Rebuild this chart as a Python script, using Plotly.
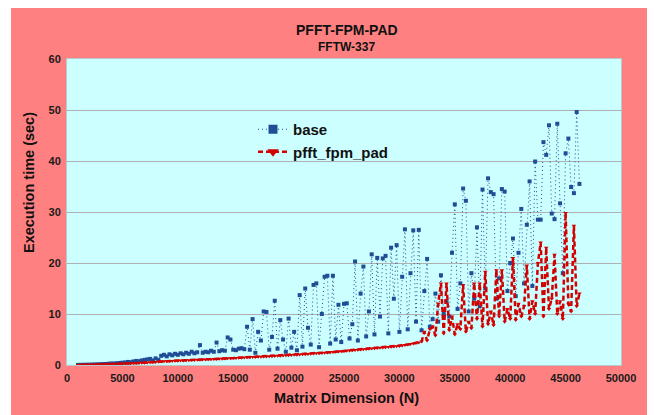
import plotly.graph_objects as go

# Matrix dimension N (x values)
matrix_n = [
    1000, 1250, 1500, 1750, 2000, 2250, 2500, 2750, 3000, 3250,
    3500, 3750, 4000, 4250, 4500, 4750, 5000, 5250, 5500, 5750,
    6000, 6250, 6500, 6750, 7000, 7250, 7500, 7750, 8000, 8250,
    8500, 8750, 9000, 9250, 9500, 9750, 10000, 10250, 10500, 10750,
    11000, 11250, 11500, 11750, 12000, 12250, 12500, 12750, 13000, 13250,
    13500, 13750, 14000, 14250, 14500, 14750, 15000, 15250, 15500, 15750,
    16000, 16250, 16500, 16750, 17000, 17250, 17500, 17750, 18000, 18250,
    18500, 18750, 19000, 19250, 19500, 19750, 20000, 20250, 20500, 20750,
    21000, 21250, 21500, 21750, 22000, 22250, 22500, 22750, 23000, 23250,
    23500, 23750, 24000, 24250, 24500, 24750, 25000, 25250, 25500, 25750,
    26000, 26250, 26500, 26750, 27000, 27250, 27500, 27750, 28000, 28250,
    28500, 28750, 29000, 29250, 29500, 29750, 30000, 30250, 30500, 30750,
    31000, 31250, 31500, 31750, 32000, 32250, 32500, 32750, 33000, 33250,
    33500, 33750, 34000, 34250, 34500, 34750, 35000, 35250, 35500, 35750,
    36000, 36250, 36500, 36750, 37000, 37250, 37500, 37750, 38000, 38250,
    38500, 38750, 39000, 39250, 39500, 39750, 40000, 40250, 40500, 40750,
    41000, 41250, 41500, 41750, 42000, 42250, 42500, 42750, 43000, 43250,
    43500, 43750, 44000, 44250, 44500, 44750, 45000, 45250, 45500, 45750,
    46000, 46250,
]

# base execution time (sec)
base_small = [0.02, 0.03, 0.04, 0.05, 0.06, 0.08, 0.1, 0.12, 0.15, 0.18,
              0.2, 0.25, 0.3, 0.28, 0.35, 0.4, 0.45, 0.5, 0.6, 0.55,
              0.7, 0.8, 0.75, 0.9, 1.0, 1.1, 1.2, 0.9, 1.3, 1.0]
base_mid = [1.8, 2.0, 1.7, 2.1, 1.9, 2.2, 2.0, 2.3, 2.1, 2.4,
            2.2, 2.6, 2.3, 2.5, 3.9, 2.4, 2.6, 2.5, 2.8, 2.6,
            4.4, 2.7, 2.9, 2.8, 5.4, 5.0, 3.0, 2.9, 3.2, 3.3, 3.1]
base_scatter = [7.5, 3.0, 9.0, 2.4, 6.5, 4.8, 10.5, 10.4, 3.0, 5.5,
                12.6, 3.2, 8.8, 5.0, 2.6, 9.1, 3.4, 6.5, 2.9, 13.7,
                3.6, 15.0, 7.3, 4.0, 15.7, 16.0, 3.5, 10.0, 17.3, 17.5,
                4.2, 17.5]
base_upper = [5.0, 11.8, 4.5, 12.0, 12.1, 5.2, 8.0, 20.3, 4.8, 14.0,
              19.3, 5.6, 10.5, 21.7, 6.0, 21.0, 9.5, 20.9, 21.4, 6.2,
              23.0, 13.0, 23.5, 6.5, 17.3, 26.6, 7.0, 18.0, 26.4, 8.5,
              26.5, 6.8, 14.5, 20.8, 7.5]
base_large = [9.0, 14.0, 8.5, 17.6, 10.0, 12.5, 9.5, 22.0, 31.5, 11.0,
              16.0, 34.6, 32.2, 10.5, 18.0, 13.0, 27.0, 11.5, 34.4, 15.0,
              36.6, 33.9, 33.5, 13.0, 17.0, 34.5, 34.0, 14.5, 20.0, 24.8,
              13.5, 22.0, 30.6, 16.0, 27.5, 36.0, 15.5, 39.9, 28.5, 28.5,
              43.7, 41.2, 47.0, 29.7, 28.6, 47.3, 31.7, 18.0, 41.5, 44.4,
              34.9, 33.7, 49.6, 35.5]
base_time = base_small + base_mid + base_scatter + base_upper + base_large

# pfft_fpm_pad execution time (sec)
pad_small = [0.01, 0.02, 0.03, 0.04, 0.05, 0.06, 0.07, 0.09, 0.1, 0.12,
             0.14, 0.16, 0.18, 0.2, 0.22, 0.24, 0.26, 0.28, 0.3, 0.32,
             0.35, 0.38, 0.4, 0.43, 0.46, 0.5, 0.53, 0.56, 0.6, 0.63]
pad_mid = [0.7, 0.72, 0.75, 0.78, 0.8, 0.83, 0.85, 0.88, 0.9, 0.93,
           0.95, 0.98, 1.0, 1.03, 1.05, 1.08, 1.1, 1.13, 1.15, 1.18,
           1.2, 1.23, 1.25, 1.28, 1.3, 1.33, 1.35, 1.38, 1.4, 1.43, 1.45]
pad_scatter = [1.5, 1.52, 1.55, 1.58, 1.6, 1.63, 1.65, 1.68, 1.7, 1.73,
               1.76, 1.8, 1.83, 1.86, 1.9, 1.93, 1.96, 2.0, 2.03, 2.06,
               2.1, 2.13, 2.16, 2.2, 2.24, 2.28, 2.32, 2.36, 2.4, 2.45,
               2.5, 2.55]
pad_upper = [2.6, 2.65, 2.7, 2.75, 2.8, 2.85, 2.9, 2.95, 3.0, 3.05,
             3.1, 3.15, 3.2, 3.25, 3.3, 3.35, 3.4, 3.45, 3.5, 3.55,
             3.6, 3.65, 3.7, 3.75, 3.8, 3.9, 4.0, 4.1, 4.2, 4.3,
             4.4, 4.6, 6.5, 4.8, 7.0]
pad_large = [7.5, 5.8, 12.0, 16.0, 6.2, 16.0, 6.8, 9.5, 6.0, 8.0,
             7.0, 15.7, 6.5, 8.5, 7.2, 16.0, 9.0, 16.0, 7.5, 18.3,
             8.0, 10.5, 7.8, 18.6, 9.5, 18.6, 8.5, 11.0, 9.0, 21.0,
             8.8, 12.0, 9.5, 11.5, 19.5, 9.0, 12.5, 10.0, 20.0, 24.0,
             9.5, 23.0, 11.0, 13.0, 21.6, 10.0, 12.5, 9.0, 29.8, 12.0,
             10.5, 27.3, 11.5, 14.0]
pad_time = pad_small + pad_mid + pad_scatter + pad_upper + pad_large

x_ticks = [0, 5000, 10000, 15000, 20000, 25000, 30000, 35000, 40000, 45000, 50000]
y_ticks = [0, 10, 20, 30, 40, 50, 60]

BLUE = "#1f4e96"
RED = "#d40000"
FONT = "Liberation Sans"

fig = go.Figure()
fig.add_trace(go.Scatter(
    x=matrix_n, y=base_time, name="base", mode="lines+markers", showlegend=False,
    line=dict(color=BLUE, width=1, dash="1px,3px"),
    marker=dict(symbol="square", size=4, color=BLUE)))
fig.add_trace(go.Scatter(
    x=matrix_n, y=pad_time, name="pfft_fpm_pad", mode="lines+markers", showlegend=False,
    line=dict(color=RED, width=2.5, dash="5px,3px"),
    marker=dict(symbol="triangle-down", size=4, color=RED)))
# legend entries
fig.add_trace(go.Scatter(
    x=[None], y=[None], name="base", mode="lines+markers",
    line=dict(color=BLUE, width=1, dash="1px,3px"),
    marker=dict(symbol="square", size=9, color=BLUE)))
fig.add_trace(go.Scatter(
    x=[None], y=[None], name="pfft_fpm_pad", mode="lines+markers",
    line=dict(color=RED, width=2.5, dash="5px,3px"),
    marker=dict(symbol="triangle-down", size=10, color=RED)))

L, R, T, B = 67, 33, 59, 50
W, H = 654, 415
pw, ph = W - L - R, H - T - B

def px(x):
    return (x - L) / pw

def py(y):
    return (H - B - y) / ph

fig.update_layout(
    width=W, height=H,
    margin=dict(l=L, r=R, t=T, b=B, pad=0),
    paper_bgcolor="#ff8080",
    plot_bgcolor="#ccffff",
    font=dict(family=FONT, color="#1a1a1a"),
    shapes=[
        # white page border around the pink chart area
        dict(type="rect", xref="paper", yref="paper", layer="above",
             x0=px(-5), x1=px(W + 5), y0=py(8), y1=py(-5),
             fillcolor="white", line=dict(width=0)),
        dict(type="rect", xref="paper", yref="paper", layer="above",
             x0=px(-5), x1=px(11), y0=py(H + 5), y1=py(-5),
             fillcolor="white", line=dict(width=0)),
        dict(type="rect", xref="paper", yref="paper", layer="above",
             x0=px(647), x1=px(W + 5), y0=py(H + 5), y1=py(-5),
             fillcolor="white", line=dict(width=0)),
    ],
    xaxis=dict(range=[0, 50000], tickvals=x_ticks, ticktext=[str(v) for v in x_ticks],
               showgrid=False, zeroline=False, ticks="outside", ticklen=3, tickcolor="rgba(0,0,0,0)",
               showline=True, linecolor="#b8c8c8", linewidth=1, mirror=True,
               tickfont=dict(family=FONT, size=11, color="#1a1a1a", weight="bold")),
    yaxis=dict(range=[0, 60], tickvals=y_ticks, ticktext=[str(v) for v in y_ticks],
               showgrid=True, gridcolor="#b0b0b0", gridwidth=1, zeroline=False,
               ticks="outside", ticklen=3, tickcolor="rgba(0,0,0,0)",
               showline=True, linecolor="#b8c8c8", linewidth=1, mirror=True,
               tickfont=dict(family=FONT, size=11, color="#1a1a1a", weight="bold")),
    legend=dict(x=px(253), y=py(113), xanchor="left", yanchor="top",
                bgcolor="rgba(0,0,0,0)", borderwidth=0,
                font=dict(family=FONT, size=15, color="#111111", weight="bold"),
                tracegroupgap=0, itemwidth=30),
    annotations=[
        dict(text="<b>PFFT-FPM-PAD</b>", xref="paper", yref="paper", x=0.505, y=py(30),
             xanchor="center", yanchor="middle", showarrow=False,
             font=dict(family=FONT, size=14, color="#111111")),
        dict(text="<b>FFTW-337</b>", xref="paper", yref="paper", x=0.505, y=py(47),
             xanchor="center", yanchor="middle", showarrow=False,
             font=dict(family=FONT, size=12, color="#111111")),
        dict(text="<b>Matrix Dimension (N)</b>", xref="paper", yref="paper", x=0.505, y=py(398),
             xanchor="center", yanchor="middle", showarrow=False,
             font=dict(family=FONT, size=14.5, color="#111111")),
        dict(text="<b>Execution time (sec)</b>", xref="paper", yref="paper", x=px(29), y=py(183),
             xanchor="center", yanchor="middle", showarrow=False, textangle=-90,
             font=dict(family=FONT, size=14.5, color="#111111")),
    ],
)

fig.write_html("out.html")
